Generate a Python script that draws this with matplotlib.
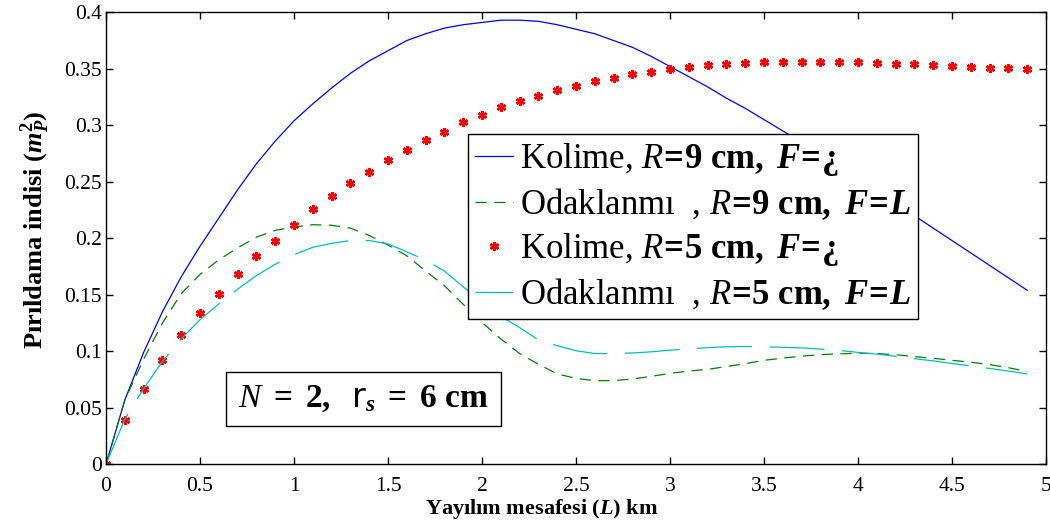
import numpy as np
import matplotlib
matplotlib.use('Agg')
import matplotlib.pyplot as plt

plt.rcParams['font.family'] = ['Liberation Serif', 'DejaVu Serif']
plt.rcParams['mathtext.fontset'] = 'custom'
plt.rcParams['mathtext.rm'] = 'Liberation Serif'
plt.rcParams['mathtext.it'] = 'Liberation Serif:italic'
plt.rcParams['mathtext.bf'] = 'Liberation Serif:bold'
plt.rcParams['mathtext.bfit'] = 'Liberation Serif:bold:italic'
plt.rcParams['mathtext.sf'] = 'DejaVu Sans'

# --- dados ---
L = np.round(np.arange(0, 5.0, 0.1), 1)   # 0 .. 4.9 km

kolime_r9 = [0, 0.057, 0.099, 0.135, 0.166, 0.193, 0.218, 0.243, 0.266, 0.286,
             0.304, 0.319, 0.333, 0.346, 0.357, 0.366, 0.375, 0.381, 0.386, 0.389,
             0.391, 0.393, 0.393, 0.392, 0.389, 0.385, 0.381, 0.375, 0.369, 0.361,
             0.352, 0.343, 0.334, 0.324, 0.315, 0.305, 0.295, 0.285, 0.274, 0.263,
             0.253, 0.242, 0.231, 0.220, 0.209, 0.198, 0.187, 0.176, 0.165, 0.154]

odak_r9 = [0, 0.057, 0.093, 0.125, 0.151, 0.168, 0.181, 0.1915, 0.201, 0.207,
           0.210, 0.212, 0.2115, 0.209, 0.2025, 0.194, 0.1845, 0.171, 0.158, 0.1415,
           0.1255, 0.111, 0.098, 0.0885, 0.080, 0.076, 0.074, 0.074, 0.0755, 0.0778,
           0.0805, 0.0825, 0.084, 0.0865, 0.089, 0.092, 0.094, 0.0957, 0.097, 0.0978,
           0.0982, 0.098, 0.097, 0.0953, 0.0938, 0.092, 0.0903, 0.0882, 0.0855, 0.082]

kolime_r5 = [0, 0.039, 0.067, 0.092, 0.114, 0.134, 0.151, 0.168, 0.184, 0.198,
             0.212, 0.226, 0.237, 0.249, 0.259, 0.269, 0.278, 0.287, 0.294, 0.303,
             0.309, 0.316, 0.3215, 0.326, 0.331, 0.335, 0.339, 0.342, 0.345, 0.347,
             0.350, 0.352, 0.353, 0.354, 0.355, 0.3557, 0.356, 0.356, 0.356, 0.356,
             0.3557, 0.355, 0.3545, 0.354, 0.353, 0.3527, 0.352, 0.351, 0.3504, 0.3496]

odak_r5 = [0, 0.040, 0.067, 0.091, 0.111, 0.128, 0.142, 0.155, 0.167, 0.177,
           0.1855, 0.192, 0.1955, 0.198, 0.198, 0.195, 0.188, 0.1805, 0.171, 0.157,
           0.144, 0.131, 0.121, 0.110, 0.105, 0.1005, 0.098, 0.098, 0.0985, 0.0995,
           0.101, 0.102, 0.1032, 0.104, 0.1042, 0.104, 0.1035, 0.103, 0.102, 0.1008,
           0.099, 0.0975, 0.0955, 0.0935, 0.0915, 0.0892, 0.087, 0.0848, 0.0825, 0.080]

labels = [r'Kolime, $\mathit{R}\!\mathbf{=}\!\mathbf{9\ cm,}$ $\mathbfit{F}\!\mathbf{=}\!\mathbf{¿}$',
          r'Odaklanmı  , $\mathit{R}\!\mathbf{=}\!\mathbf{9\ cm,}$ $\mathbfit{F}\!\mathbf{=}\!\mathbfit{L}$',
          r'Kolime, $\mathit{R}\!\mathbf{=}\!\mathbf{5\ cm,}$ $\mathbfit{F}\!\mathbf{=}\!\mathbf{¿}$',
          r'Odaklanmı  , $\mathit{R}\!\mathbf{=}\!\mathbf{5\ cm,}$ $\mathbfit{F}\!\mathbf{=}\!\mathbfit{L}$']

x_ticks = [0, 0.5, 1, 1.5, 2, 2.5, 3, 3.5, 4, 4.5, 5]
x_tick_labels = ['0', '0.5', '1', '1.5', '2', '2.5', '3', '3.5', '4', '4.5', '5']
y_ticks = [0, 0.05, 0.1, 0.15, 0.2, 0.25, 0.3, 0.35, 0.4]
y_tick_labels = ['0', '0.05', '0.1', '0.15', '0.2', '0.25', '0.3', '0.35', '0.4']

# --- figura ---
fig = plt.figure(figsize=(10.5, 5.27), dpi=100)
ax = fig.add_axes([0.101, 0.119, 0.8952, 0.8577])

ax.plot(L, kolime_r9, color='#0000ff', lw=0.9, label=labels[0])
ax.plot(L, odak_r9, color='#008000', lw=0.9, ls=(0, (9, 6)), label=labels[1])
ax.plot(L, kolime_r5, ls='none', marker=(6, 2, 0), ms=6.5, mew=1.8,
        color='#ff0000', label=labels[2])
ax.plot(L, odak_r5, color='#00bfbf', lw=0.9, ls=(0, (44, 14)), label=labels[3])

ax.set_xlim(0, 5)
ax.set_ylim(0, 0.4)
ax.set_xticks(x_ticks)
ax.set_xticklabels(x_tick_labels)
ax.set_yticks(y_ticks)
ax.set_yticklabels(y_tick_labels)
ax.tick_params(direction='in', length=5, width=1, top=True, right=True,
               labelsize=15.5)
ax.tick_params(axis='x', pad=9)
ax.tick_params(axis='y', pad=3)
for s in ax.spines.values():
    s.set_linewidth(1.0)

ax.set_xlabel(r'Yayılım mesafesi ($\mathbfit{L}$) km', fontsize=16,
              fontweight='bold')
ax.xaxis.set_label_coords(0.463, -0.072)
ax.set_ylabel(r'Pırıldama indisi ($\mathbfit{m}_{\mathbfit{P}}^{\mathbf{2}}$)',
              fontsize=19, fontweight='bold')
ax.yaxis.set_label_coords(-0.057, 0.518)

leg = ax.legend(loc='upper left', bbox_to_anchor=(0.385, 0.731), fontsize=25,
                frameon=True, fancybox=False, framealpha=1, edgecolor='black',
                handlelength=1.1, handletextpad=0.2, borderpad=0.2,
                labelspacing=0.25, borderaxespad=0, numpoints=1)
leg.get_frame().set_linewidth(1.0)

ax.text(0.274, 0.1445, r'$\mathit{N}\ \mathbf{=\ 2,}\ \ \mathsf{r}_{\mathbfit{s}}\ \mathbf{=\ 6\ cm}$',
        transform=ax.transAxes, fontsize=24, ha='center', va='center',
        bbox=dict(boxstyle='square,pad=0.36', facecolor='white',
                  edgecolor='black', linewidth=1.0))

fig.savefig('out.png', dpi=100)
